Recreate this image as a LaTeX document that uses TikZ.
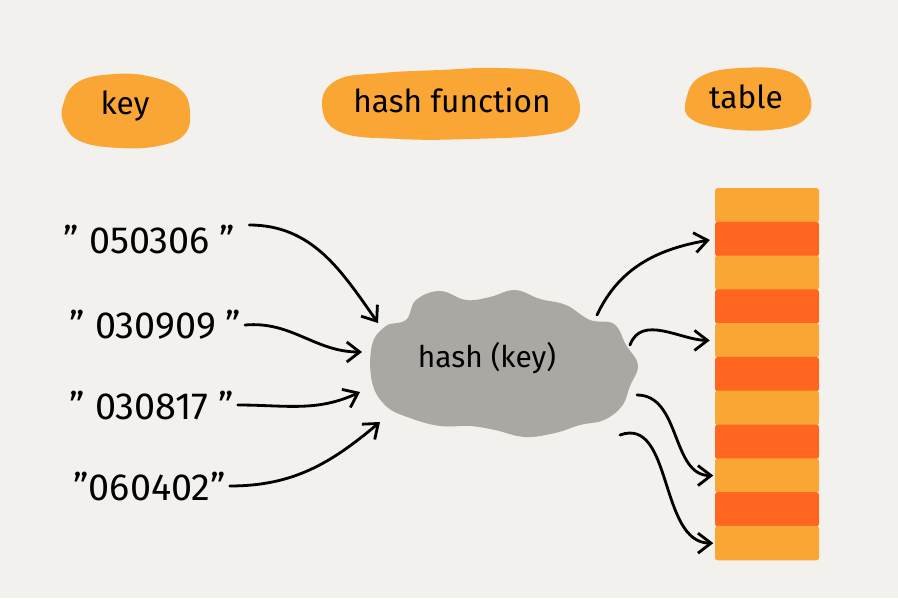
\documentclass[tikz,border=0pt]{standalone}
\usepackage{fontspec}
\setmainfont{Fira Sans}
\usetikzlibrary{arrows.meta,positioning}
\definecolor{paper}{HTML}{F3F1EE}
\definecolor{lightorange}{HTML}{FAA634}
\definecolor{darkorange}{HTML}{FF6620}
\definecolor{cloudgray}{HTML}{ABA7A2}

\begin{document}
\begin{tikzpicture}[x=0.02cm, y=-0.02cm,
    keytext/.style={font=\fontsize{21.5}{24}\selectfont, anchor=west, inner sep=2pt},
    title/.style={font=\fontsize{18}{21}\selectfont},
    slot/.style={rectangle, minimum width=2.08cm, minimum height=0.69cm, inner sep=0pt, outer sep=0pt, rounded corners=1.5pt},
    arrow/.style={-{Straight Barb[length=2.6mm, width=4mm]}, line width=1.6pt, line cap=round}
]
    % Paper
    \fill[paper] (0,0) rectangle (898,598);

    % Title blobs
    \fill[lightorange] plot[smooth cycle, tension=0.7] coordinates {(63,105) (78,82) (115,74) (152,77) (181,90) (190,112) (184,135) (158,146) (120,148) (82,142) (65,126)};
    \fill[lightorange] plot[smooth cycle, tension=0.7] coordinates {(322,105) (337,80) (382,73) (440,70) (500,68) (556,74) (578,97) (574,124) (543,135) (470,139) (400,139) (340,132)};
    \fill[lightorange] plot[smooth cycle, tension=0.7] coordinates {(686,100) (700,77) (740,68) (790,72) (810,96) (804,120) (770,130) (720,128) (690,118)};
    \node[title] (keytitle) at (125,106) {key};
    \node[title] (hashtitle) at (452,100) {hash function};
    \node[title] (tabletitle) at (746,97) {table};

    % Hash cloud
    \fill[cloudgray] plot[smooth cycle, tension=0.65] coordinates {(372,345) (386,326) (406,320) (416,300) (440,291) (466,300) (490,297) (515,290) (540,299) (566,305) (590,320) (614,324) (626,345) (638,365) (630,386) (622,406) (604,420) (580,425) (555,433) (525,437) (495,430) (470,426) (440,426) (410,418) (386,406) (372,382)};
    \node[font=\fontsize{17}{20}\selectfont] (hash) at (487,358) {hash (key)};
    \coordinate (in1) at (378,323);
    \coordinate (in2) at (362,352);
    \coordinate (in3) at (360,392);
    \coordinate (in4) at (380,422);
    \coordinate (out1) at (597,315);
    \coordinate (out2) at (630,345);
    \coordinate (out3) at (637,395);
    \coordinate (out4) at (620,435);

    % Keys
    \node[keytext] (k1) at (60,240) {" 050306 "};
    \node[keytext] (k2) at (66,325) {" 030909 "};
    \node[keytext] (k3) at (66,405) {" 030817 "};
    \node[keytext] (k4) at (70,486) {"060402"};

    % Table
    \node[slot, fill=lightorange, anchor=north] (s1) at (767,188) {};
    \foreach \i in {2,...,11} {
        \pgfmathtruncatemacro{\prev}{\i-1}
        \pgfmathtruncatemacro{\odd}{mod(\i,2)}
        \ifnum\odd=0
            \node[slot, fill=darkorange, below=-0.4pt of s\prev] (s\i) {};
        \else
            \node[slot, fill=lightorange, below=-0.4pt of s\prev] (s\i) {};
        \fi
    }

    % Arrows in
    \draw[arrow] ([xshift=0.2cm, yshift=0.3cm]k1.east) to[out=0, in=125] (in1);
    \draw[arrow] (k2.east) to[out=5, in=180] (in2);
    \draw[arrow] (k3.east) to[out=0, in=205] (in3);
    \draw[arrow] (k4.east) to[out=0, in=220] (in4);

    % Arrows out
    \draw[arrow, shorten >=3pt] (out1) to[out=65, in=190] (s2.west);
    \draw[arrow, shorten >=3pt] (out2) to[out=70, in=180] (s5.west);
    \draw[arrow, shorten >=1pt] (out3) to[out=0, in=180] (s9.west);
    \draw[arrow, shorten >=1pt] (out4) to[out=20, in=180] (s11.west);
\end{tikzpicture}
\end{document}
